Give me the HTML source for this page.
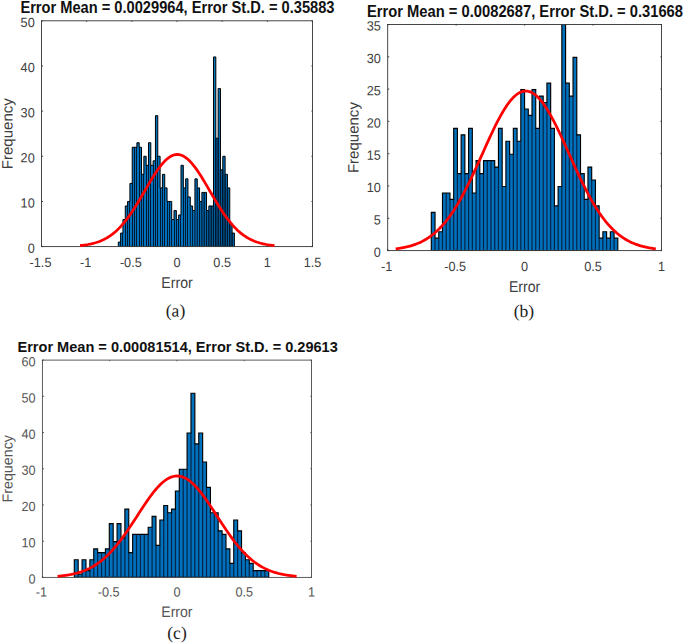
<!DOCTYPE html><html><head><meta charset="utf-8"><style>html,body{margin:0;padding:0;background:#fff}svg{display:block}text{font-family:"Liberation Sans",sans-serif}</style></head><body>
<svg width="685" height="644" viewBox="0 0 685 644">
<rect width="685" height="644" fill="#fff"/>
<clipPath id="clipa"><rect x="41.5" y="20.8" width="271.0" height="225.79999999999998"/></clipPath>
<g clip-path="url(#clipa)">
<path d="M118.30 246.6V242.08H120.62V233.05H122.94V219.50H125.27V205.96H127.59V201.44H129.91V183.38H132.23V147.25H134.55V147.25H136.88V142.73H139.20V147.25H141.52V174.34H143.84V156.28H146.16V165.31H148.49V142.73H150.81V165.31H153.13V160.80H155.45V115.64H157.77V156.28H160.10V187.89H162.42V174.34H164.74V187.89H167.06V201.44H169.38V201.44H171.71V219.50H174.03V210.47H176.35V219.50H178.67V214.99H180.99V165.31H183.32V187.89H185.64V178.86H187.96V196.92H190.28V205.96H192.60V210.47H194.93V178.86H197.25V187.89H199.57V201.44H201.89V192.41H204.21V192.41H206.54V210.47H208.86V205.96H211.18V205.96H213.50V56.93H215.82V138.22H218.15V88.54H220.47V169.83H222.79V156.28H225.11V174.34H227.43V187.89H229.76V224.02H232.08V233.05H234.40V246.6Z" fill="#0072BD" stroke="none"/>
<path d="M120.62 246.6V242.08" stroke="#02182e" stroke-width="1.00" fill="none" shape-rendering="crispEdges"/>
<path d="M122.94 246.6V233.05" stroke="#02182e" stroke-width="1.00" fill="none" shape-rendering="crispEdges"/>
<path d="M125.27 246.6V219.50" stroke="#02182e" stroke-width="1.00" fill="none" shape-rendering="crispEdges"/>
<path d="M127.59 246.6V205.96" stroke="#02182e" stroke-width="1.00" fill="none" shape-rendering="crispEdges"/>
<path d="M129.91 246.6V201.44" stroke="#02182e" stroke-width="1.00" fill="none" shape-rendering="crispEdges"/>
<path d="M132.23 246.6V183.38" stroke="#02182e" stroke-width="1.00" fill="none" shape-rendering="crispEdges"/>
<path d="M134.55 246.6V147.25" stroke="#02182e" stroke-width="1.00" fill="none" shape-rendering="crispEdges"/>
<path d="M136.88 246.6V147.25" stroke="#02182e" stroke-width="1.00" fill="none" shape-rendering="crispEdges"/>
<path d="M139.20 246.6V147.25" stroke="#02182e" stroke-width="1.00" fill="none" shape-rendering="crispEdges"/>
<path d="M141.52 246.6V174.34" stroke="#02182e" stroke-width="1.00" fill="none" shape-rendering="crispEdges"/>
<path d="M143.84 246.6V174.34" stroke="#02182e" stroke-width="1.00" fill="none" shape-rendering="crispEdges"/>
<path d="M146.16 246.6V165.31" stroke="#02182e" stroke-width="1.00" fill="none" shape-rendering="crispEdges"/>
<path d="M148.49 246.6V165.31" stroke="#02182e" stroke-width="1.00" fill="none" shape-rendering="crispEdges"/>
<path d="M150.81 246.6V165.31" stroke="#02182e" stroke-width="1.00" fill="none" shape-rendering="crispEdges"/>
<path d="M153.13 246.6V165.31" stroke="#02182e" stroke-width="1.00" fill="none" shape-rendering="crispEdges"/>
<path d="M155.45 246.6V160.80" stroke="#02182e" stroke-width="1.00" fill="none" shape-rendering="crispEdges"/>
<path d="M157.77 246.6V156.28" stroke="#02182e" stroke-width="1.00" fill="none" shape-rendering="crispEdges"/>
<path d="M160.10 246.6V187.89" stroke="#02182e" stroke-width="1.00" fill="none" shape-rendering="crispEdges"/>
<path d="M162.42 246.6V187.89" stroke="#02182e" stroke-width="1.00" fill="none" shape-rendering="crispEdges"/>
<path d="M164.74 246.6V187.89" stroke="#02182e" stroke-width="1.00" fill="none" shape-rendering="crispEdges"/>
<path d="M167.06 246.6V201.44" stroke="#02182e" stroke-width="1.00" fill="none" shape-rendering="crispEdges"/>
<path d="M169.38 246.6V201.44" stroke="#02182e" stroke-width="1.00" fill="none" shape-rendering="crispEdges"/>
<path d="M171.71 246.6V219.50" stroke="#02182e" stroke-width="1.00" fill="none" shape-rendering="crispEdges"/>
<path d="M174.03 246.6V219.50" stroke="#02182e" stroke-width="1.00" fill="none" shape-rendering="crispEdges"/>
<path d="M176.35 246.6V219.50" stroke="#02182e" stroke-width="1.00" fill="none" shape-rendering="crispEdges"/>
<path d="M178.67 246.6V219.50" stroke="#02182e" stroke-width="1.00" fill="none" shape-rendering="crispEdges"/>
<path d="M180.99 246.6V214.99" stroke="#02182e" stroke-width="1.00" fill="none" shape-rendering="crispEdges"/>
<path d="M183.32 246.6V187.89" stroke="#02182e" stroke-width="1.00" fill="none" shape-rendering="crispEdges"/>
<path d="M185.64 246.6V187.89" stroke="#02182e" stroke-width="1.00" fill="none" shape-rendering="crispEdges"/>
<path d="M187.96 246.6V196.92" stroke="#02182e" stroke-width="1.00" fill="none" shape-rendering="crispEdges"/>
<path d="M190.28 246.6V205.96" stroke="#02182e" stroke-width="0.95" fill="none"/>
<path d="M192.60 246.6V210.47" stroke="#02182e" stroke-width="1.01" fill="none"/>
<path d="M194.93 246.6V210.47" stroke="#02182e" stroke-width="1.07" fill="none"/>
<path d="M197.25 246.6V187.89" stroke="#02182e" stroke-width="1.13" fill="none"/>
<path d="M199.57 246.6V201.44" stroke="#02182e" stroke-width="1.19" fill="none"/>
<path d="M201.89 246.6V201.44" stroke="#02182e" stroke-width="1.25" fill="none"/>
<path d="M204.21 246.6V192.41" stroke="#02182e" stroke-width="1.31" fill="none"/>
<path d="M206.54 246.6V210.47" stroke="#02182e" stroke-width="1.37" fill="none"/>
<path d="M208.86 246.6V210.47" stroke="#02182e" stroke-width="1.43" fill="none"/>
<path d="M211.18 246.6V205.96" stroke="#02182e" stroke-width="1.49" fill="none"/>
<path d="M213.50 246.6V205.96" stroke="#02182e" stroke-width="1.55" fill="none"/>
<path d="M215.82 246.6V138.22" stroke="#02182e" stroke-width="1.60" fill="none"/>
<path d="M218.15 246.6V138.22" stroke="#02182e" stroke-width="1.60" fill="none"/>
<path d="M220.47 246.6V169.83" stroke="#02182e" stroke-width="1.60" fill="none"/>
<path d="M222.79 246.6V169.83" stroke="#02182e" stroke-width="1.60" fill="none"/>
<path d="M225.11 246.6V174.34" stroke="#02182e" stroke-width="1.60" fill="none"/>
<path d="M227.43 246.6V187.89" stroke="#02182e" stroke-width="1.60" fill="none"/>
<path d="M229.76 246.6V224.02" stroke="#02182e" stroke-width="1.60" fill="none"/>
<path d="M232.08 246.6V233.05" stroke="#02182e" stroke-width="1.60" fill="none"/>
<path d="M118.30 246.6V242.08H120.62V233.05H122.94V219.50H125.27V205.96H127.59V201.44H129.91V183.38H132.23V147.25H134.55V147.25H136.88V142.73H139.20V147.25H141.52V174.34H143.84V156.28H146.16V165.31H148.49V142.73H150.81V165.31H153.13V160.80H155.45V115.64H157.77V156.28H160.10V187.89H162.42V174.34H164.74V187.89H167.06V201.44H169.38V201.44H171.71V219.50H174.03V210.47H176.35V219.50H178.67V214.99H180.99V165.31H183.32V187.89H185.64V178.86H187.96V196.92H190.28V205.96H192.60V210.47H194.93V178.86H197.25V187.89H199.57V201.44H201.89V192.41H204.21V192.41H206.54V210.47H208.86V205.96H211.18V205.96H213.50V56.93H215.82V138.22H218.15V88.54H220.47V169.83H222.79V156.28H225.11V174.34H227.43V187.89H229.76V224.02H232.08V233.05H234.40V246.6Z" fill="none" stroke="#000" stroke-width="1.0" stroke-linejoin="miter"/>
</g>
<rect x="41.5" y="20.8" width="271.00" height="225.80" fill="none" stroke="#333333" stroke-width="0.9"/>
<path d="M41.50 246.6v-1.6M41.50 20.8v1.1199999999999999M86.67 246.6v-1.6M86.67 20.8v1.1199999999999999M131.83 246.6v-1.6M131.83 20.8v1.1199999999999999M177.00 246.6v-1.6M177.00 20.8v1.1199999999999999M222.17 246.6v-1.6M222.17 20.8v1.1199999999999999M267.33 246.6v-1.6M267.33 20.8v1.1199999999999999M312.50 246.6v-1.6M312.50 20.8v1.1199999999999999M41.5 246.60h1.6M312.5 246.60h-1.1199999999999999M41.5 201.44h1.6M312.5 201.44h-1.1199999999999999M41.5 156.28h1.6M312.5 156.28h-1.1199999999999999M41.5 111.12h1.6M312.5 111.12h-1.1199999999999999M41.5 65.96h1.6M312.5 65.96h-1.1199999999999999M41.5 20.80h1.6M312.5 20.80h-1.1199999999999999" stroke="#333333" stroke-width="0.9" fill="none"/>
<polyline points="80.03,245.58 81.65,245.41 83.27,245.23 84.89,245.01 86.51,244.77 88.13,244.50 89.75,244.19 91.37,243.85 92.99,243.46 94.61,243.03 96.23,242.55 97.86,242.02 99.48,241.43 101.10,240.78 102.72,240.06 104.34,239.27 105.96,238.41 107.58,237.47 109.20,236.44 110.82,235.33 112.44,234.13 114.06,232.84 115.68,231.45 117.30,229.96 118.92,228.37 120.55,226.68 122.17,224.88 123.79,222.98 125.41,220.99 127.03,218.89 128.65,216.69 130.27,214.40 131.89,212.02 133.51,209.56 135.13,207.03 136.75,204.42 138.37,201.76 139.99,199.04 141.61,196.29 143.24,193.51 144.86,190.72 146.48,187.93 148.10,185.15 149.72,182.41 151.34,179.70 152.96,177.06 154.58,174.49 156.20,172.02 157.82,169.65 159.44,167.41 161.06,165.30 162.68,163.34 164.30,161.56 165.93,159.95 167.55,158.53 169.17,157.31 170.79,156.30 172.41,155.50 174.03,154.93 175.65,154.59 177.27,154.47 178.89,154.59 180.51,154.93 182.13,155.50 183.75,156.30 185.37,157.31 186.99,158.53 188.62,159.95 190.24,161.56 191.86,163.34 193.48,165.30 195.10,167.41 196.72,169.65 198.34,172.02 199.96,174.49 201.58,177.06 203.20,179.70 204.82,182.41 206.44,185.15 208.06,187.93 209.68,190.72 211.31,193.51 212.93,196.29 214.55,199.04 216.17,201.76 217.79,204.42 219.41,207.03 221.03,209.56 222.65,212.02 224.27,214.40 225.89,216.69 227.51,218.89 229.13,220.99 230.75,222.98 232.38,224.88 234.00,226.68 235.62,228.37 237.24,229.96 238.86,231.45 240.48,232.84 242.10,234.13 243.72,235.33 245.34,236.44 246.96,237.47 248.58,238.41 250.20,239.27 251.82,240.06 253.44,240.78 255.07,241.43 256.69,242.02 258.31,242.55 259.93,243.03 261.55,243.46 263.17,243.85 264.79,244.19 266.41,244.50 268.03,244.77 269.65,245.01 271.27,245.23 272.89,245.41 274.51,245.58" fill="none" stroke="#ff0000" stroke-width="2.75" stroke-linejoin="round"/>
<text transform="translate(40.50,266.90) rotate(0.03) scale(0.955,1)" font-size="13.3" fill="#404040" text-anchor="middle">-1.5</text>
<text transform="translate(85.67,266.90) rotate(0.03) scale(0.955,1)" font-size="13.3" fill="#404040" text-anchor="middle">-1</text>
<text transform="translate(130.83,266.90) rotate(0.03) scale(0.955,1)" font-size="13.3" fill="#404040" text-anchor="middle">-0.5</text>
<text transform="translate(177.00,266.90) rotate(0.03) scale(0.955,1)" font-size="13.3" fill="#404040" text-anchor="middle">0</text>
<text transform="translate(222.17,266.90) rotate(0.03) scale(0.955,1)" font-size="13.3" fill="#404040" text-anchor="middle">0.5</text>
<text transform="translate(267.33,266.90) rotate(0.03) scale(0.955,1)" font-size="13.3" fill="#404040" text-anchor="middle">1</text>
<text transform="translate(312.50,266.90) rotate(0.03) scale(0.955,1)" font-size="13.3" fill="#404040" text-anchor="middle">1.5</text>
<text transform="translate(34.70,252.70) rotate(0.03) scale(0.955,1)" font-size="13.3" fill="#404040" text-anchor="end">0</text>
<text transform="translate(34.70,207.54) rotate(0.03) scale(0.955,1)" font-size="13.3" fill="#404040" text-anchor="end">10</text>
<text transform="translate(34.70,162.38) rotate(0.03) scale(0.955,1)" font-size="13.3" fill="#404040" text-anchor="end">20</text>
<text transform="translate(34.70,117.22) rotate(0.03) scale(0.955,1)" font-size="13.3" fill="#404040" text-anchor="end">30</text>
<text transform="translate(34.70,72.06) rotate(0.03) scale(0.955,1)" font-size="13.3" fill="#404040" text-anchor="end">40</text>
<text transform="translate(34.70,26.90) rotate(0.03) scale(0.955,1)" font-size="13.3" fill="#404040" text-anchor="end">50</text>
<text transform="translate(20.4,12.6) rotate(0.004)" font-size="16.4" font-weight="bold" fill="#111" textLength="314.1" lengthAdjust="spacingAndGlyphs">Error Mean = 0.0029964, Error St.D. = 0.35883</text>
<text transform="translate(177.0,287.7) rotate(0.03)" font-size="15.6" fill="#404040" text-anchor="middle" textLength="31.3" lengthAdjust="spacingAndGlyphs">Error</text>
<text transform="translate(12.5,133.7) rotate(-90.03)" font-size="15" fill="#404040" text-anchor="middle" textLength="71" lengthAdjust="spacingAndGlyphs">Frequency</text>
<text transform="translate(175.5,316.5) rotate(0.03)" font-size="17.5" fill="#222" text-anchor="middle" style="font-family:'Liberation Serif',serif">(a)</text>
<clipPath id="clipb"><rect x="387.7" y="24.5" width="273.8" height="226.1"/></clipPath>
<g clip-path="url(#clipb)">
<path d="M431.30 250.6V212.34H435.03V238.18H438.76V231.72H442.49V192.96H446.22V192.96H449.95V199.42H453.68V128.36H457.41V173.58H461.14V134.82H464.87V173.58H468.60V128.36H472.33V192.96H476.06V160.66H479.79V173.58H483.52V160.66H487.25V160.66H490.98V160.66H494.71V167.12H498.44V128.36H502.17V186.50H505.90V141.28H509.63V154.20H513.36V128.36H517.09V141.28H520.82V89.60H524.55V108.98H528.28V115.44H532.01V89.60H535.74V128.36H539.47V96.06H543.20V102.52H546.93V83.14H550.66V128.36H554.39V205.88H558.12V186.50H561.85V18.54H565.58V83.14H569.31V96.06H573.04V57.30H576.77V134.82H580.50V173.58H584.23V199.42H587.96V167.12H591.69V180.04H595.42V205.88H599.15V238.18H602.88V231.72H606.61V238.18H610.34V231.72H614.07V238.18H617.80V250.6Z" fill="#0072BD" stroke="none"/>
<path d="M435.03 250.6V238.18" stroke="#05264a" stroke-width="1.25" fill="none"/>
<path d="M438.76 250.6V238.18" stroke="#05264a" stroke-width="1.25" fill="none"/>
<path d="M442.49 250.6V231.72" stroke="#05264a" stroke-width="1.25" fill="none"/>
<path d="M446.22 250.6V192.96" stroke="#05264a" stroke-width="1.25" fill="none"/>
<path d="M449.95 250.6V199.42" stroke="#05264a" stroke-width="1.25" fill="none"/>
<path d="M453.68 250.6V199.42" stroke="#05264a" stroke-width="1.25" fill="none"/>
<path d="M457.41 250.6V173.58" stroke="#05264a" stroke-width="1.25" fill="none"/>
<path d="M461.14 250.6V173.58" stroke="#05264a" stroke-width="1.25" fill="none"/>
<path d="M464.87 250.6V173.58" stroke="#05264a" stroke-width="1.25" fill="none"/>
<path d="M468.60 250.6V173.58" stroke="#05264a" stroke-width="1.25" fill="none"/>
<path d="M472.33 250.6V192.96" stroke="#05264a" stroke-width="1.25" fill="none"/>
<path d="M476.06 250.6V192.96" stroke="#05264a" stroke-width="1.25" fill="none"/>
<path d="M479.79 250.6V173.58" stroke="#05264a" stroke-width="1.25" fill="none"/>
<path d="M483.52 250.6V173.58" stroke="#05264a" stroke-width="1.25" fill="none"/>
<path d="M487.25 250.6V160.66" stroke="#05264a" stroke-width="1.25" fill="none"/>
<path d="M490.98 250.6V160.66" stroke="#05264a" stroke-width="1.25" fill="none"/>
<path d="M494.71 250.6V167.12" stroke="#05264a" stroke-width="1.25" fill="none"/>
<path d="M498.44 250.6V167.12" stroke="#05264a" stroke-width="1.25" fill="none"/>
<path d="M502.17 250.6V186.50" stroke="#05264a" stroke-width="1.25" fill="none"/>
<path d="M505.90 250.6V186.50" stroke="#05264a" stroke-width="1.25" fill="none"/>
<path d="M509.63 250.6V154.20" stroke="#05264a" stroke-width="1.25" fill="none"/>
<path d="M513.36 250.6V154.20" stroke="#05264a" stroke-width="1.25" fill="none"/>
<path d="M517.09 250.6V141.28" stroke="#05264a" stroke-width="1.25" fill="none"/>
<path d="M520.82 250.6V141.28" stroke="#05264a" stroke-width="1.25" fill="none"/>
<path d="M524.55 250.6V108.98" stroke="#05264a" stroke-width="1.25" fill="none"/>
<path d="M528.28 250.6V115.44" stroke="#05264a" stroke-width="1.25" fill="none"/>
<path d="M532.01 250.6V115.44" stroke="#05264a" stroke-width="1.25" fill="none"/>
<path d="M535.74 250.6V128.36" stroke="#05264a" stroke-width="1.25" fill="none"/>
<path d="M539.47 250.6V128.36" stroke="#05264a" stroke-width="1.25" fill="none"/>
<path d="M543.20 250.6V102.52" stroke="#05264a" stroke-width="1.25" fill="none"/>
<path d="M546.93 250.6V102.52" stroke="#05264a" stroke-width="1.25" fill="none"/>
<path d="M550.66 250.6V128.36" stroke="#05264a" stroke-width="1.25" fill="none"/>
<path d="M554.39 250.6V205.88" stroke="#05264a" stroke-width="1.25" fill="none"/>
<path d="M558.12 250.6V205.88" stroke="#05264a" stroke-width="1.25" fill="none"/>
<path d="M561.85 250.6V186.50" stroke="#05264a" stroke-width="1.25" fill="none"/>
<path d="M565.58 250.6V83.14" stroke="#05264a" stroke-width="1.25" fill="none"/>
<path d="M569.31 250.6V96.06" stroke="#05264a" stroke-width="1.25" fill="none"/>
<path d="M573.04 250.6V96.06" stroke="#05264a" stroke-width="1.25" fill="none"/>
<path d="M576.77 250.6V134.82" stroke="#05264a" stroke-width="1.25" fill="none"/>
<path d="M580.50 250.6V173.58" stroke="#05264a" stroke-width="1.25" fill="none"/>
<path d="M584.23 250.6V199.42" stroke="#05264a" stroke-width="1.25" fill="none"/>
<path d="M587.96 250.6V199.42" stroke="#05264a" stroke-width="1.25" fill="none"/>
<path d="M591.69 250.6V180.04" stroke="#05264a" stroke-width="1.25" fill="none"/>
<path d="M595.42 250.6V205.88" stroke="#05264a" stroke-width="1.25" fill="none"/>
<path d="M599.15 250.6V238.18" stroke="#05264a" stroke-width="1.25" fill="none"/>
<path d="M602.88 250.6V238.18" stroke="#05264a" stroke-width="1.25" fill="none"/>
<path d="M606.61 250.6V238.18" stroke="#05264a" stroke-width="1.25" fill="none"/>
<path d="M610.34 250.6V238.18" stroke="#05264a" stroke-width="1.25" fill="none"/>
<path d="M614.07 250.6V238.18" stroke="#05264a" stroke-width="1.25" fill="none"/>
<path d="M431.30 250.6V212.34H435.03V238.18H438.76V231.72H442.49V192.96H446.22V192.96H449.95V199.42H453.68V128.36H457.41V173.58H461.14V134.82H464.87V173.58H468.60V128.36H472.33V192.96H476.06V160.66H479.79V173.58H483.52V160.66H487.25V160.66H490.98V160.66H494.71V167.12H498.44V128.36H502.17V186.50H505.90V141.28H509.63V154.20H513.36V128.36H517.09V141.28H520.82V89.60H524.55V108.98H528.28V115.44H532.01V89.60H535.74V128.36H539.47V96.06H543.20V102.52H546.93V83.14H550.66V128.36H554.39V205.88H558.12V186.50H561.85V18.54H565.58V83.14H569.31V96.06H573.04V57.30H576.77V134.82H580.50V173.58H584.23V199.42H587.96V167.12H591.69V180.04H595.42V205.88H599.15V238.18H602.88V231.72H606.61V238.18H610.34V231.72H614.07V238.18H617.80V250.6Z" fill="none" stroke="#000" stroke-width="1.15" stroke-linejoin="miter"/>
</g>
<rect x="387.7" y="24.5" width="273.80" height="226.10" fill="none" stroke="#333333" stroke-width="0.9"/>
<path d="M387.70 250.6v-1.6M387.70 24.5v1.1199999999999999M456.15 250.6v-1.6M456.15 24.5v1.1199999999999999M524.60 250.6v-1.6M524.60 24.5v1.1199999999999999M593.05 250.6v-1.6M593.05 24.5v1.1199999999999999M661.50 250.6v-1.6M661.50 24.5v1.1199999999999999M387.7 250.60h1.6M661.5 250.60h-1.1199999999999999M387.7 218.30h1.6M661.5 218.30h-1.1199999999999999M387.7 186.00h1.6M661.5 186.00h-1.1199999999999999M387.7 153.70h1.6M661.5 153.70h-1.1199999999999999M387.7 121.40h1.6M661.5 121.40h-1.1199999999999999M387.7 89.10h1.6M661.5 89.10h-1.1199999999999999M387.7 56.80h1.6M661.5 56.80h-1.1199999999999999M387.7 24.50h1.6M661.5 24.50h-1.1199999999999999" stroke="#333333" stroke-width="0.9" fill="none"/>
<polyline points="395.67,248.83 397.84,248.54 400.01,248.22 402.17,247.85 404.34,247.43 406.51,246.96 408.68,246.43 410.85,245.84 413.01,245.17 415.18,244.42 417.35,243.59 419.52,242.67 421.68,241.64 423.85,240.51 426.02,239.27 428.19,237.91 430.35,236.41 432.52,234.78 434.69,233.01 436.86,231.09 439.03,229.01 441.19,226.76 443.36,224.36 445.53,221.78 447.70,219.02 449.86,216.09 452.03,212.98 454.20,209.70 456.37,206.24 458.53,202.60 460.70,198.80 462.87,194.83 465.04,190.71 467.20,186.45 469.37,182.06 471.54,177.55 473.71,172.93 475.88,168.23 478.04,163.47 480.21,158.66 482.38,153.82 484.55,148.99 486.71,144.18 488.88,139.42 491.05,134.73 493.22,130.16 495.38,125.71 497.55,121.42 499.72,117.32 501.89,113.44 504.06,109.79 506.22,106.40 508.39,103.31 510.56,100.52 512.73,98.06 514.89,95.95 517.06,94.20 519.23,92.82 521.40,91.83 523.56,91.24 525.73,91.04 527.90,91.24 530.07,91.83 532.24,92.82 534.40,94.20 536.57,95.95 538.74,98.06 540.91,100.52 543.07,103.31 545.24,106.40 547.41,109.79 549.58,113.44 551.74,117.32 553.91,121.42 556.08,125.71 558.25,130.16 560.41,134.73 562.58,139.42 564.75,144.18 566.92,148.99 569.09,153.82 571.25,158.66 573.42,163.47 575.59,168.23 577.76,172.93 579.92,177.55 582.09,182.06 584.26,186.45 586.43,190.71 588.59,194.83 590.76,198.80 592.93,202.60 595.10,206.24 597.27,209.70 599.43,212.98 601.60,216.09 603.77,219.02 605.94,221.78 608.10,224.36 610.27,226.76 612.44,229.01 614.61,231.09 616.77,233.01 618.94,234.78 621.11,236.41 623.28,237.91 625.45,239.27 627.61,240.51 629.78,241.64 631.95,242.67 634.12,243.59 636.28,244.42 638.45,245.17 640.62,245.84 642.79,246.43 644.95,246.96 647.12,247.43 649.29,247.85 651.46,248.22 653.62,248.54 655.79,248.83" fill="none" stroke="#ff0000" stroke-width="2.75" stroke-linejoin="round"/>
<text transform="translate(386.70,270.90) rotate(0.03) scale(0.955,1)" font-size="13.3" fill="#404040" text-anchor="middle">-1</text>
<text transform="translate(455.15,270.90) rotate(0.03) scale(0.955,1)" font-size="13.3" fill="#404040" text-anchor="middle">-0.5</text>
<text transform="translate(524.60,270.90) rotate(0.03) scale(0.955,1)" font-size="13.3" fill="#404040" text-anchor="middle">0</text>
<text transform="translate(593.05,270.90) rotate(0.03) scale(0.955,1)" font-size="13.3" fill="#404040" text-anchor="middle">0.5</text>
<text transform="translate(661.50,270.90) rotate(0.03) scale(0.955,1)" font-size="13.3" fill="#404040" text-anchor="middle">1</text>
<text transform="translate(380.90,256.70) rotate(0.03) scale(0.955,1)" font-size="13.3" fill="#404040" text-anchor="end">0</text>
<text transform="translate(380.90,224.40) rotate(0.03) scale(0.955,1)" font-size="13.3" fill="#404040" text-anchor="end">5</text>
<text transform="translate(380.90,192.10) rotate(0.03) scale(0.955,1)" font-size="13.3" fill="#404040" text-anchor="end">10</text>
<text transform="translate(380.90,159.80) rotate(0.03) scale(0.955,1)" font-size="13.3" fill="#404040" text-anchor="end">15</text>
<text transform="translate(380.90,127.50) rotate(0.03) scale(0.955,1)" font-size="13.3" fill="#404040" text-anchor="end">20</text>
<text transform="translate(380.90,95.20) rotate(0.03) scale(0.955,1)" font-size="13.3" fill="#404040" text-anchor="end">25</text>
<text transform="translate(380.90,62.90) rotate(0.03) scale(0.955,1)" font-size="13.3" fill="#404040" text-anchor="end">30</text>
<text transform="translate(380.90,30.60) rotate(0.03) scale(0.955,1)" font-size="13.3" fill="#404040" text-anchor="end">35</text>
<text transform="translate(367,16.6) rotate(0.004)" font-size="16.4" font-weight="bold" fill="#111" textLength="316.0" lengthAdjust="spacingAndGlyphs">Error Mean = 0.0082687, Error St.D. = 0.31668</text>
<text transform="translate(524.6,292) rotate(0.03)" font-size="15.6" fill="#404040" text-anchor="middle" textLength="31.3" lengthAdjust="spacingAndGlyphs">Error</text>
<text transform="translate(358.5,137.6) rotate(-90.03)" font-size="15" fill="#404040" text-anchor="middle" textLength="71" lengthAdjust="spacingAndGlyphs">Frequency</text>
<text transform="translate(524,317) rotate(0.03)" font-size="17.5" fill="#222" text-anchor="middle" style="font-family:'Liberation Serif',serif">(b)</text>
<clipPath id="clipc"><rect x="42.4" y="360.1" width="269.1" height="217.29999999999995"/></clipPath>
<g clip-path="url(#clipc)">
<path d="M74.30 577.4V559.79H78.19V574.28H82.08V559.79H85.97V570.66H89.86V559.79H93.75V548.93H97.63V552.55H101.52V552.55H105.41V548.93H109.30V523.58H113.19V541.68H117.08V523.58H120.97V538.06H124.86V509.09H128.75V552.55H132.63V534.44H136.52V534.44H140.41V534.44H144.30V534.44H148.19V527.20H152.08V516.33H155.97V545.30H159.86V519.95H163.75V505.47H167.64V512.71H171.52V509.09H175.41V490.98H179.30V469.25H183.19V469.25H187.08V433.03H190.97V393.20H194.86V443.90H198.75V433.03H202.64V462.01H206.53V487.36H210.41V512.71H214.30V512.71H218.19V530.82H222.08V534.44H225.97V548.93H229.86V563.41H233.75V519.95H237.64V530.82H241.53V552.55H245.42V559.79H249.31V563.41H253.19V570.66H257.08V570.66H260.97V570.66H264.86V570.66H268.75V577.4Z" fill="#0072BD" stroke="none"/>
<path d="M78.19 577.4V574.28" stroke="#05264a" stroke-width="1.25" fill="none"/>
<path d="M82.08 577.4V574.28" stroke="#05264a" stroke-width="1.25" fill="none"/>
<path d="M85.97 577.4V570.66" stroke="#05264a" stroke-width="1.25" fill="none"/>
<path d="M89.86 577.4V570.66" stroke="#05264a" stroke-width="1.25" fill="none"/>
<path d="M93.75 577.4V559.79" stroke="#05264a" stroke-width="1.25" fill="none"/>
<path d="M97.63 577.4V552.55" stroke="#05264a" stroke-width="1.25" fill="none"/>
<path d="M101.52 577.4V552.55" stroke="#05264a" stroke-width="1.25" fill="none"/>
<path d="M105.41 577.4V552.55" stroke="#05264a" stroke-width="1.25" fill="none"/>
<path d="M109.30 577.4V548.93" stroke="#05264a" stroke-width="1.25" fill="none"/>
<path d="M113.19 577.4V541.68" stroke="#05264a" stroke-width="1.25" fill="none"/>
<path d="M117.08 577.4V541.68" stroke="#05264a" stroke-width="1.25" fill="none"/>
<path d="M120.97 577.4V538.06" stroke="#05264a" stroke-width="1.25" fill="none"/>
<path d="M124.86 577.4V538.06" stroke="#05264a" stroke-width="1.25" fill="none"/>
<path d="M128.75 577.4V552.55" stroke="#05264a" stroke-width="1.25" fill="none"/>
<path d="M132.63 577.4V552.55" stroke="#05264a" stroke-width="1.25" fill="none"/>
<path d="M136.52 577.4V534.44" stroke="#05264a" stroke-width="1.25" fill="none"/>
<path d="M140.41 577.4V534.44" stroke="#05264a" stroke-width="1.25" fill="none"/>
<path d="M144.30 577.4V534.44" stroke="#05264a" stroke-width="1.25" fill="none"/>
<path d="M148.19 577.4V534.44" stroke="#05264a" stroke-width="1.25" fill="none"/>
<path d="M152.08 577.4V527.20" stroke="#05264a" stroke-width="1.25" fill="none"/>
<path d="M155.97 577.4V545.30" stroke="#05264a" stroke-width="1.25" fill="none"/>
<path d="M159.86 577.4V545.30" stroke="#05264a" stroke-width="1.25" fill="none"/>
<path d="M163.75 577.4V519.95" stroke="#05264a" stroke-width="1.25" fill="none"/>
<path d="M167.64 577.4V512.71" stroke="#05264a" stroke-width="1.25" fill="none"/>
<path d="M171.52 577.4V512.71" stroke="#05264a" stroke-width="1.25" fill="none"/>
<path d="M175.41 577.4V509.09" stroke="#05264a" stroke-width="1.25" fill="none"/>
<path d="M179.30 577.4V490.98" stroke="#05264a" stroke-width="1.25" fill="none"/>
<path d="M183.19 577.4V469.25" stroke="#05264a" stroke-width="1.25" fill="none"/>
<path d="M187.08 577.4V469.25" stroke="#05264a" stroke-width="1.25" fill="none"/>
<path d="M190.97 577.4V433.03" stroke="#05264a" stroke-width="1.25" fill="none"/>
<path d="M194.86 577.4V443.90" stroke="#05264a" stroke-width="1.25" fill="none"/>
<path d="M198.75 577.4V443.90" stroke="#05264a" stroke-width="1.25" fill="none"/>
<path d="M202.64 577.4V462.01" stroke="#05264a" stroke-width="1.25" fill="none"/>
<path d="M206.53 577.4V487.36" stroke="#05264a" stroke-width="1.25" fill="none"/>
<path d="M210.41 577.4V512.71" stroke="#05264a" stroke-width="1.25" fill="none"/>
<path d="M214.30 577.4V512.71" stroke="#05264a" stroke-width="1.25" fill="none"/>
<path d="M218.19 577.4V530.82" stroke="#05264a" stroke-width="1.25" fill="none"/>
<path d="M222.08 577.4V534.44" stroke="#05264a" stroke-width="1.25" fill="none"/>
<path d="M225.97 577.4V548.93" stroke="#05264a" stroke-width="1.25" fill="none"/>
<path d="M229.86 577.4V563.41" stroke="#05264a" stroke-width="1.25" fill="none"/>
<path d="M233.75 577.4V563.41" stroke="#05264a" stroke-width="1.25" fill="none"/>
<path d="M237.64 577.4V530.82" stroke="#05264a" stroke-width="1.25" fill="none"/>
<path d="M241.53 577.4V552.55" stroke="#05264a" stroke-width="1.25" fill="none"/>
<path d="M245.42 577.4V559.79" stroke="#05264a" stroke-width="1.25" fill="none"/>
<path d="M249.31 577.4V563.41" stroke="#05264a" stroke-width="1.25" fill="none"/>
<path d="M253.19 577.4V570.66" stroke="#05264a" stroke-width="1.25" fill="none"/>
<path d="M257.08 577.4V570.66" stroke="#05264a" stroke-width="1.25" fill="none"/>
<path d="M260.97 577.4V570.66" stroke="#05264a" stroke-width="1.25" fill="none"/>
<path d="M264.86 577.4V570.66" stroke="#05264a" stroke-width="1.25" fill="none"/>
<path d="M74.30 577.4V559.79H78.19V574.28H82.08V559.79H85.97V570.66H89.86V559.79H93.75V548.93H97.63V552.55H101.52V552.55H105.41V548.93H109.30V523.58H113.19V541.68H117.08V523.58H120.97V538.06H124.86V509.09H128.75V552.55H132.63V534.44H136.52V534.44H140.41V534.44H144.30V534.44H148.19V527.20H152.08V516.33H155.97V545.30H159.86V519.95H163.75V505.47H167.64V512.71H171.52V509.09H175.41V490.98H179.30V469.25H183.19V469.25H187.08V433.03H190.97V393.20H194.86V443.90H198.75V433.03H202.64V462.01H206.53V487.36H210.41V512.71H214.30V512.71H218.19V530.82H222.08V534.44H225.97V548.93H229.86V563.41H233.75V519.95H237.64V530.82H241.53V552.55H245.42V559.79H249.31V563.41H253.19V570.66H257.08V570.66H260.97V570.66H264.86V570.66H268.75V577.4Z" fill="none" stroke="#000" stroke-width="1.15" stroke-linejoin="miter"/>
</g>
<rect x="42.4" y="360.1" width="269.10" height="217.30" fill="none" stroke="#4a4a4a" stroke-width="0.9"/>
<path d="M42.40 577.4v-1.6M42.40 360.1v1.1199999999999999M109.68 577.4v-1.6M109.68 360.1v1.1199999999999999M176.95 577.4v-1.6M176.95 360.1v1.1199999999999999M244.23 577.4v-1.6M244.23 360.1v1.1199999999999999M311.50 577.4v-1.6M311.50 360.1v1.1199999999999999M42.4 577.40h1.6M311.5 577.40h-1.1199999999999999M42.4 541.18h1.6M311.5 541.18h-1.1199999999999999M42.4 504.97h1.6M311.5 504.97h-1.1199999999999999M42.4 468.75h1.6M311.5 468.75h-1.1199999999999999M42.4 432.53h1.6M311.5 432.53h-1.1199999999999999M42.4 396.32h1.6M311.5 396.32h-1.1199999999999999M42.4 360.10h1.6M311.5 360.10h-1.1199999999999999" stroke="#4a4a4a" stroke-width="0.9" fill="none"/>
<polyline points="57.53,576.27 59.52,576.09 61.51,575.89 63.50,575.65 65.50,575.39 67.49,575.09 69.48,574.75 71.47,574.37 73.46,573.95 75.46,573.47 77.45,572.94 79.44,572.36 81.43,571.71 83.43,570.99 85.42,570.20 87.41,569.33 89.40,568.38 91.39,567.35 93.39,566.22 95.38,565.00 97.37,563.68 99.36,562.25 101.36,560.72 103.35,559.08 105.34,557.33 107.33,555.47 109.32,553.49 111.32,551.41 113.31,549.21 115.30,546.90 117.29,544.48 119.29,541.96 121.28,539.34 123.27,536.63 125.26,533.84 127.25,530.97 129.25,528.04 131.24,525.05 133.23,522.02 135.22,518.97 137.22,515.89 139.21,512.82 141.20,509.76 143.19,506.74 145.18,503.76 147.18,500.85 149.17,498.03 151.16,495.30 153.15,492.70 155.15,490.23 157.14,487.91 159.13,485.76 161.12,483.79 163.11,482.02 165.11,480.46 167.10,479.11 169.09,478.00 171.08,477.13 173.08,476.50 175.07,476.12 177.06,475.99 179.05,476.12 181.04,476.50 183.04,477.13 185.03,478.00 187.02,479.11 189.01,480.46 191.01,482.02 193.00,483.79 194.99,485.76 196.98,487.91 198.97,490.23 200.97,492.70 202.96,495.30 204.95,498.03 206.94,500.85 208.94,503.76 210.93,506.74 212.92,509.76 214.91,512.82 216.90,515.89 218.90,518.97 220.89,522.02 222.88,525.05 224.87,528.04 226.87,530.97 228.86,533.84 230.85,536.63 232.84,539.34 234.83,541.96 236.83,544.48 238.82,546.90 240.81,549.21 242.80,551.41 244.79,553.49 246.79,555.47 248.78,557.33 250.77,559.08 252.76,560.72 254.76,562.25 256.75,563.68 258.74,565.00 260.73,566.22 262.72,567.35 264.72,568.38 266.71,569.33 268.70,570.20 270.69,570.99 272.69,571.71 274.68,572.36 276.67,572.94 278.66,573.47 280.65,573.95 282.65,574.37 284.64,574.75 286.63,575.09 288.62,575.39 290.62,575.65 292.61,575.89 294.60,576.09 296.59,576.27" fill="none" stroke="#ff0000" stroke-width="2.75" stroke-linejoin="round"/>
<text transform="translate(41.40,596.50) rotate(0.03) scale(0.955,1)" font-size="13.3" fill="#555555" text-anchor="middle">-1</text>
<text transform="translate(108.68,596.50) rotate(0.03) scale(0.955,1)" font-size="13.3" fill="#555555" text-anchor="middle">-0.5</text>
<text transform="translate(176.95,596.50) rotate(0.03) scale(0.955,1)" font-size="13.3" fill="#555555" text-anchor="middle">0</text>
<text transform="translate(244.23,596.50) rotate(0.03) scale(0.955,1)" font-size="13.3" fill="#555555" text-anchor="middle">0.5</text>
<text transform="translate(311.50,596.50) rotate(0.03) scale(0.955,1)" font-size="13.3" fill="#555555" text-anchor="middle">1</text>
<text transform="translate(35.60,583.50) rotate(0.03) scale(0.955,1)" font-size="13.3" fill="#555555" text-anchor="end">0</text>
<text transform="translate(35.60,547.28) rotate(0.03) scale(0.955,1)" font-size="13.3" fill="#555555" text-anchor="end">10</text>
<text transform="translate(35.60,511.07) rotate(0.03) scale(0.955,1)" font-size="13.3" fill="#555555" text-anchor="end">20</text>
<text transform="translate(35.60,474.85) rotate(0.03) scale(0.955,1)" font-size="13.3" fill="#555555" text-anchor="end">30</text>
<text transform="translate(35.60,438.63) rotate(0.03) scale(0.955,1)" font-size="13.3" fill="#555555" text-anchor="end">40</text>
<text transform="translate(35.60,402.42) rotate(0.03) scale(0.955,1)" font-size="13.3" fill="#555555" text-anchor="end">50</text>
<text transform="translate(35.60,366.20) rotate(0.03) scale(0.955,1)" font-size="13.3" fill="#555555" text-anchor="end">60</text>
<text transform="translate(17.5,352.4) rotate(0.004)" font-size="15.4" font-weight="bold" fill="#111" textLength="320.3" lengthAdjust="spacingAndGlyphs">Error Mean = 0.00081514, Error St.D. = 0.29613</text>
<text transform="translate(176.9,616.8) rotate(0.03)" font-size="15.2" fill="#555555" text-anchor="middle" textLength="31.3" lengthAdjust="spacingAndGlyphs">Error</text>
<text transform="translate(12.5,468.8) rotate(-90.03)" font-size="14.5" fill="#555555" text-anchor="middle" textLength="67.5" lengthAdjust="spacingAndGlyphs">Frequency</text>
<text transform="translate(177,638.8) rotate(0.03)" font-size="17.5" fill="#222" text-anchor="middle" style="font-family:'Liberation Serif',serif">(c)</text>
</svg></body></html>
